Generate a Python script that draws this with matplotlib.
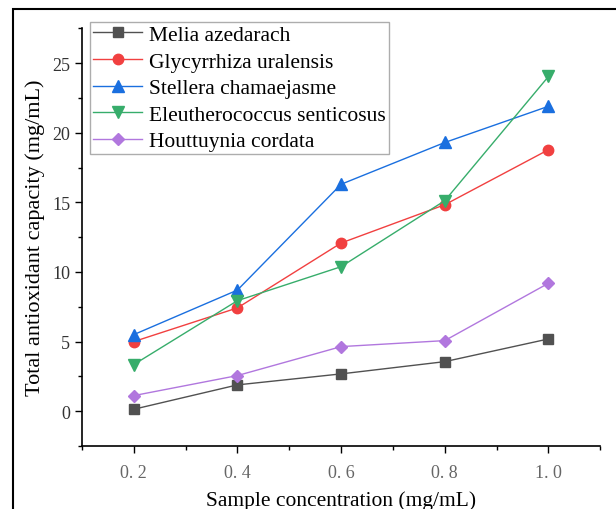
import matplotlib
matplotlib.use("Agg")
import matplotlib.pyplot as plt
from matplotlib.patches import Rectangle

plt.rcParams['font.family'] = ['Liberation Serif', 'DejaVu Serif']

concentration = [0.2, 0.4, 0.6, 0.8, 1.0]
tick_labels = ["0. 2", "0. 4", "0. 6", "0. 8", "1. 0"]
melia = [0.14, 1.89, 2.68, 3.56, 5.19]
glycyrrhiza = [5.0, 7.42, 12.08, 14.83, 18.78]
stellera = [5.5, 8.7, 16.3, 19.3, 21.9]
eleutherococcus = [3.35, 7.94, 10.38, 15.12, 24.04]
houttuynia = [1.12, 2.56, 4.64, 5.07, 9.19]

series = [
    ("Melia azedarach", melia, "#515151", "s", 7),
    ("Glycyrrhiza uralensis", glycyrrhiza, "#F14040", "o", 7.5),
    ("Stellera chamaejasme", stellera, "#1A6FDF", "^", 8),
    ("Eleutherococcus senticosus", eleutherococcus, "#37AD6B", "v", 8),
    ("Houttuynia cordata", houttuynia, "#B177DE", "D", 6.5),
]

fig = plt.figure(figsize=(6.16, 5.10), dpi=100)
ax = fig.add_axes([0.133, 0.1235, 0.8415, 0.819])

for name, vals, col, mk, ms in series:
    ax.plot(concentration, vals, color=col, lw=1.0, marker=mk, ms=ms,
            mfc=col, mec=col, label=name)

ax.set_xlim(0.1, 1.1)
ax.set_ylim(-2.5, 27.5)
ax.set_xticks(concentration)
ax.set_xticklabels(tick_labels, color="#666666", fontsize=13)
ax.set_xticks([0.1, 0.3, 0.5, 0.7, 0.9, 1.1], minor=True)
ax.set_yticks([0, 5, 10, 15, 20, 25])
ax.set_yticks([-2.5, 2.5, 7.5, 12.5, 17.5, 22.5, 27.5], minor=True)
ax.tick_params(axis='y', labelsize=13, labelcolor="#333333")
ax.tick_params(which='major', direction='out', length=5, width=1)
ax.tick_params(which='minor', direction='out', length=3, width=1)
ax.tick_params(axis='x', pad=8)

for s in ['top', 'right']:
    ax.spines[s].set_visible(False)
for s in ['left', 'bottom']:
    ax.spines[s].set_linewidth(1.2)

ax.set_xlabel("Sample concentration (mg/mL)", fontsize=15.5, labelpad=6.5)
ax.set_ylabel("Total antioxidant capacity (mg/mL)", fontsize=16, labelpad=5)

leg = ax.legend(loc='upper left', bbox_to_anchor=(89.6/616, 1 - 22.7/510),
                bbox_transform=fig.transFigure, fontsize=15.5, frameon=True,
                fancybox=False, borderaxespad=0, borderpad=0.15,
                handlelength=2.3, handletextpad=0.3, labelspacing=0.3)
leg.get_frame().set_edgecolor("#999999")
leg.get_frame().set_linewidth(1.0)

fig.patches.append(Rectangle((13/616, -0.1), 1.2, 1.1 - 9.5/510,
                             transform=fig.transFigure, fill=False,
                             edgecolor='black', lw=1.5))

fig.savefig("out.png", dpi=100)
